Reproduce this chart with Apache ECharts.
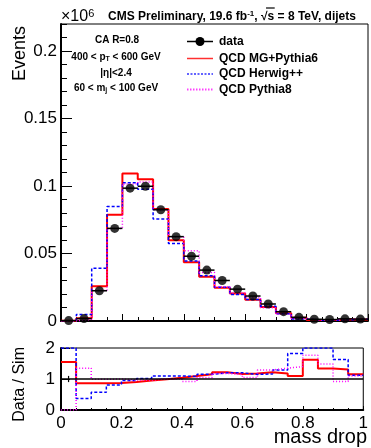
<!DOCTYPE html>
<html><head><meta charset="utf-8">
<script src="https://cdn.jsdelivr.net/npm/echarts@6/dist/echarts.min.js"></script>
<style>html,body{margin:0;padding:0;background:#fff}#c{width:371px;height:448px}</style>
</head><body><div id="c"></div>
<script>
// ---- data (events in units of 10^6) ----
const binEdges = [0,0.05,0.1,0.15,0.2,0.25,0.3,0.35,0.4,0.45,0.5,0.55,0.6,0.65,0.7,0.75,0.8,0.85,0.9,0.95,1.0];
const dataEvents = [0.0003,0.0018,0.0224,0.0686,0.0984,0.0998,0.0824,0.0625,0.0480,0.0377,0.0300,0.0236,0.0185,0.0126,0.0069,0.0027,0.0013,0.0011,0.0016,0.0014];
const qcdMGPythia6 = [0.0002,0.0021,0.0258,0.0787,0.1092,0.1050,0.0829,0.0598,0.0436,0.0328,0.0246,0.0203,0.0157,0.0103,0.0058,0.0025,0.0008,0.0008,0.0012,0.0012];
const qcdHerwigpp = [0.0001,0.0049,0.0390,0.0848,0.1025,0.0976,0.0755,0.0575,0.0445,0.0335,0.0250,0.0197,0.0160,0.0109,0.0054,0.0015,0.0006,0.0006,0.0010,0.0013];
const qcdPythia8 = [0.0000,0.0013,0.0226,0.0686,0.1015,0.1030,0.0824,0.0625,0.0520,0.0359,0.0254,0.0207,0.0176,0.0098,0.0051,0.0019,0.0007,0.0007,0.0017,0.0013];
const ratioMG = [1.55,0.86,0.86,0.87,0.90,0.95,0.99,1.04,1.10,1.15,1.22,1.16,1.18,1.22,1.18,1.10,1.62,1.34,1.31,1.15];
const ratioHerwig = [2.0,0.37,0.57,0.81,0.95,1.02,1.10,1.10,1.08,1.15,1.20,1.20,1.15,1.16,1.29,1.82,2.0,2.0,1.63,1.12];
const ratioPythia8 = [0,1.35,0.99,1.0,0.97,0.97,1.0,1.0,0.92,1.05,1.18,1.14,1.05,1.29,1.35,1.40,1.77,1.48,0.92,1.10];
const ratioDataErr = [[0.025,0.9,1.1]];
const topYTicks = [0,0.05,0.1,0.15,0.2];
const bottomYTicks = [0,1,2];
const xTicks = [0,0.2,0.4,0.6,0.8,1];

const F = 'Liberation Sans, Arial, sans-serif';
function stepData(vals){
  const out = vals.map((v,i)=>[binEdges[i], v]);
  out.push([binEdges[binEdges.length-1], vals[vals.length-1]]);
  return out;
}
const fmt = v => { const r = Math.round(v*1000)/1000; return String(r); };

// measure title pieces for the overline of sqrt(s)
const mc = document.createElement('canvas').getContext('2d');
mc.font = 'bold 12px ' + F; const tw1 = mc.measureText('CMS Preliminary, 19.6 fb').width;
mc.font = 'bold 8px ' + F; const tw2 = mc.measureText('-1').width;
mc.font = 'bold 12px ' + F; const tw3 = mc.measureText(', √').width; const tws = mc.measureText('s').width;
const titleX = 108;
const ovX1 = titleX + tw1 + tw2 + tw3 - 1.5, ovX2 = titleX + tw1 + tw2 + tw3 + tws + 0.5;

const chart = echarts.init(document.getElementById('c'), null, {renderer:'canvas'});
const axisLineStyle = {color:'#000', width:2};
const option = {
  animation:false,
  backgroundColor:'#fff',
  grid:[
    {left:61, top:24, width:307, height:297, show:true, borderColor:'#000', borderWidth:1},
    {left:61, top:348, width:307, height:62, show:true, borderColor:'#000', borderWidth:1}
  ],
  xAxis:[
    {gridIndex:0, type:'value', min:0, max:1, interval:0.2,
     axisLine:{lineStyle:axisLineStyle}, axisLabel:{show:false},
     axisTick:{inside:true, length:7, lineStyle:{color:'#000', width:1}},
     minorTick:{show:true, splitNumber:4, length:4, lineStyle:{color:'#000', width:1}},
     splitLine:{show:false}},
    {gridIndex:1, type:'value', min:0, max:1, interval:0.2,
     axisLine:{lineStyle:axisLineStyle},
     axisLabel:{show:true, fontFamily:F, fontSize:17, color:'#000', margin:5,
       formatter: v => xTicks.some(t=>Math.abs(t-v)<1e-9) ? fmt(v) : ''},
     axisTick:{inside:true, length:4, lineStyle:{color:'#000', width:1}},
     minorTick:{show:true, splitNumber:4, length:2, lineStyle:{color:'#000', width:1}},
     splitLine:{show:false}}
  ],
  yAxis:[
    {gridIndex:0, type:'value', position:'left', min:0, max:0.22, interval:0.05,
     axisLine:{show:true, lineStyle:axisLineStyle},
     axisLabel:{fontFamily:F, fontSize:17, color:'#000', margin:4, showMaxLabel:false,
       formatter: v => topYTicks.some(t=>Math.abs(t-v)<1e-9) ? fmt(v) : ''},
     axisTick:{show:true, inside:true, length:11, lineStyle:{color:'#000', width:1}},
     splitLine:{show:false}},
    {gridIndex:0, type:'value', position:'left', offset:0, min:0, max:0.22, interval:0.01,
     axisLine:{show:false}, axisLabel:{show:false},
     axisTick:{show:true, inside:true, length:6, lineStyle:{color:'#000', width:1}},
     splitLine:{show:false}},
    {gridIndex:1, type:'value', position:'left', min:0, max:2, interval:1,
     axisLine:{show:true, lineStyle:axisLineStyle},
     axisLabel:{fontFamily:F, fontSize:17, color:'#000', margin:6,
       formatter: v => bottomYTicks.some(t=>Math.abs(t-v)<1e-9) ? fmt(v) : ''},
     axisTick:{show:true, inside:true, length:9, lineStyle:{color:'#000', width:1}},
     splitLine:{show:false}}
  ],
  series:[
    {name:'QCD MG+Pythia6', type:'line', xAxisIndex:0, yAxisIndex:0, step:'end', symbol:'none',
     data:stepData(qcdMGPythia6), lineStyle:{color:'#ff0000', width:2}, z:2},
    {name:'QCD Herwig++', type:'line', xAxisIndex:0, yAxisIndex:0, step:'end', symbol:'none',
     data:stepData(qcdHerwigpp), lineStyle:{color:'#0000ff', width:1.5, type:[3,2]}, z:3},
    {name:'QCD Pythia8', type:'line', xAxisIndex:0, yAxisIndex:0, step:'end', symbol:'none',
     data:stepData(qcdPythia8), lineStyle:{color:'#ff00ff', width:1.5, type:[1,2]}, z:4},
    {name:'data err', type:'custom', xAxisIndex:0, yAxisIndex:0, z:5,
     data: dataEvents.map((v,i)=>[binEdges[i], binEdges[i+1], v]),
     encode:{x:[0,1], y:2},
     renderItem:(params, api)=>{
       const a = api.coord([api.value(0), api.value(2)]);
       const b = api.coord([api.value(1), api.value(2)]);
       return {type:'line', shape:{x1:a[0], y1:a[1], x2:b[0], y2:b[1]}, style:{stroke:'#000', lineWidth:1.5}};
     }},
    {name:'data', type:'scatter', xAxisIndex:0, yAxisIndex:0, z:6, symbol:'circle', symbolSize:9,
     itemStyle:{color:'#000'},
     data: dataEvents.map((v,i)=>[(binEdges[i]+binEdges[i+1])/2, v])},
    // ratio panel
    {name:'ratio MG', type:'line', xAxisIndex:1, yAxisIndex:2, step:'end', symbol:'none',
     data:stepData(ratioMG), lineStyle:{color:'#ff0000', width:2}, z:2,
     markLine:{silent:true, symbol:'none', label:{show:false},
       lineStyle:{color:'#000', width:1.5, type:'solid'}, data:[{yAxis:1}]}},
    {name:'ratio Herwig', type:'line', xAxisIndex:1, yAxisIndex:2, step:'end', symbol:'none',
     data:stepData(ratioHerwig), lineStyle:{color:'#0000ff', width:1.5, type:[3,2]}, z:3},
    {name:'ratio Pythia8', type:'line', xAxisIndex:1, yAxisIndex:2, step:'end', symbol:'none',
     data:stepData(ratioPythia8), lineStyle:{color:'#ff00ff', width:1.5, type:[1,2]}, z:4},
    {name:'ratio err', type:'custom', xAxisIndex:1, yAxisIndex:2, z:5,
     data: ratioDataErr, encode:{x:0, y:[1,2]},
     renderItem:(params, api)=>{
       const a = api.coord([api.value(0), api.value(1)]);
       const b = api.coord([api.value(0), api.value(2)]);
       return {type:'line', shape:{x1:a[0], y1:a[1], x2:b[0], y2:b[1]}, style:{stroke:'#000', lineWidth:1.2}};
     }}
  ],
  graphic:[
    // exponent
    {type:'text', x:61, y:17, style:{text:'×10{sup|6}', font:'16px '+F, fill:'#000', textVerticalAlign:'middle', lineHeight:18,
      rich:{sup:{fontSize:11, fontFamily:F, lineHeight:6, verticalAlign:'top'}}}},
    // title
    {type:'text', x:titleX, y:17, style:{text:'CMS Preliminary, 19.6 fb{sup|-1}, √s = 8 TeV, dijets', font:'bold 12px '+F, fill:'#000', textVerticalAlign:'middle', lineHeight:14,
      rich:{sup:{fontSize:8, fontWeight:'bold', fontFamily:F, lineHeight:6, verticalAlign:'top'}}}},
    {type:'line', shape:{x1:ovX1, y1:8, x2:ovX2, y2:8}, style:{stroke:'#000', lineWidth:1.2}},
    // annotations
    {type:'text', x:117, y:40, style:{text:'CA R=0.8', font:'bold 10px '+F, fill:'#000', textAlign:'center', textVerticalAlign:'middle'}},
    {type:'text', x:116, y:57, style:{text:'400 < p{sub|T} < 600 GeV', font:'bold 10px '+F, fill:'#000', textAlign:'center', textVerticalAlign:'middle', lineHeight:12,
      rich:{sub:{fontSize:7, fontWeight:'bold', fontFamily:F, lineHeight:4, verticalAlign:'bottom'}}}},
    {type:'text', x:116, y:73, style:{text:'|η|<2.4', font:'bold 10px '+F, fill:'#000', textAlign:'center', textVerticalAlign:'middle'}},
    {type:'text', x:116, y:88, style:{text:'60 < m{sub|j} < 100 GeV', font:'bold 10px '+F, fill:'#000', textAlign:'center', textVerticalAlign:'middle', lineHeight:12,
      rich:{sub:{fontSize:7, fontWeight:'bold', fontFamily:F, lineHeight:4, verticalAlign:'bottom'}}}},
    // legend
    {type:'line', shape:{x1:187, y1:41.5, x2:213, y2:41.5}, style:{stroke:'#000', lineWidth:1.5}},
    {type:'circle', shape:{cx:200, cy:41.5, r:4.5}, style:{fill:'#000'}},
    {type:'text', x:219, y:41.5, style:{text:'data', font:'bold 12px '+F, fill:'#000', textVerticalAlign:'middle'}},
    {type:'line', shape:{x1:187, y1:58.5, x2:213, y2:58.5}, style:{stroke:'#ff3030', lineWidth:1.5}},
    {type:'text', x:219, y:58.5, style:{text:'QCD MG+Pythia6', font:'bold 12px '+F, fill:'#000', textVerticalAlign:'middle'}},
    {type:'line', shape:{x1:187, y1:74, x2:213, y2:74}, style:{stroke:'#3030ff', lineWidth:1.5, lineDash:[2,1.5]}},
    {type:'text', x:219, y:74, style:{text:'QCD Herwig++', font:'bold 12px '+F, fill:'#000', textVerticalAlign:'middle'}},
    {type:'line', shape:{x1:187, y1:89.5, x2:213, y2:89.5}, style:{stroke:'#ff40ff', lineWidth:2, lineDash:[1.5,1.5]}},
    {type:'text', x:219, y:89.5, style:{text:'QCD Pythia8', font:'bold 12px '+F, fill:'#000', textVerticalAlign:'middle'}},
    // axis titles
    {type:'text', x:20, y:26, rotation:Math.PI/2, style:{text:'Events', font:'18px '+F, fill:'#000', textAlign:'right', textVerticalAlign:'middle'}},
    {type:'text', x:20, y:347, rotation:Math.PI/2, style:{text:'Data / Sim', font:'16px '+F, fill:'#000', textAlign:'right', textVerticalAlign:'middle'}},
    {type:'text', x:367, y:437, style:{text:'mass drop', font:'20px '+F, fill:'#000', textAlign:'right', textVerticalAlign:'middle'}}
  ]
};
chart.setOption(option);
</script>
</body></html>
